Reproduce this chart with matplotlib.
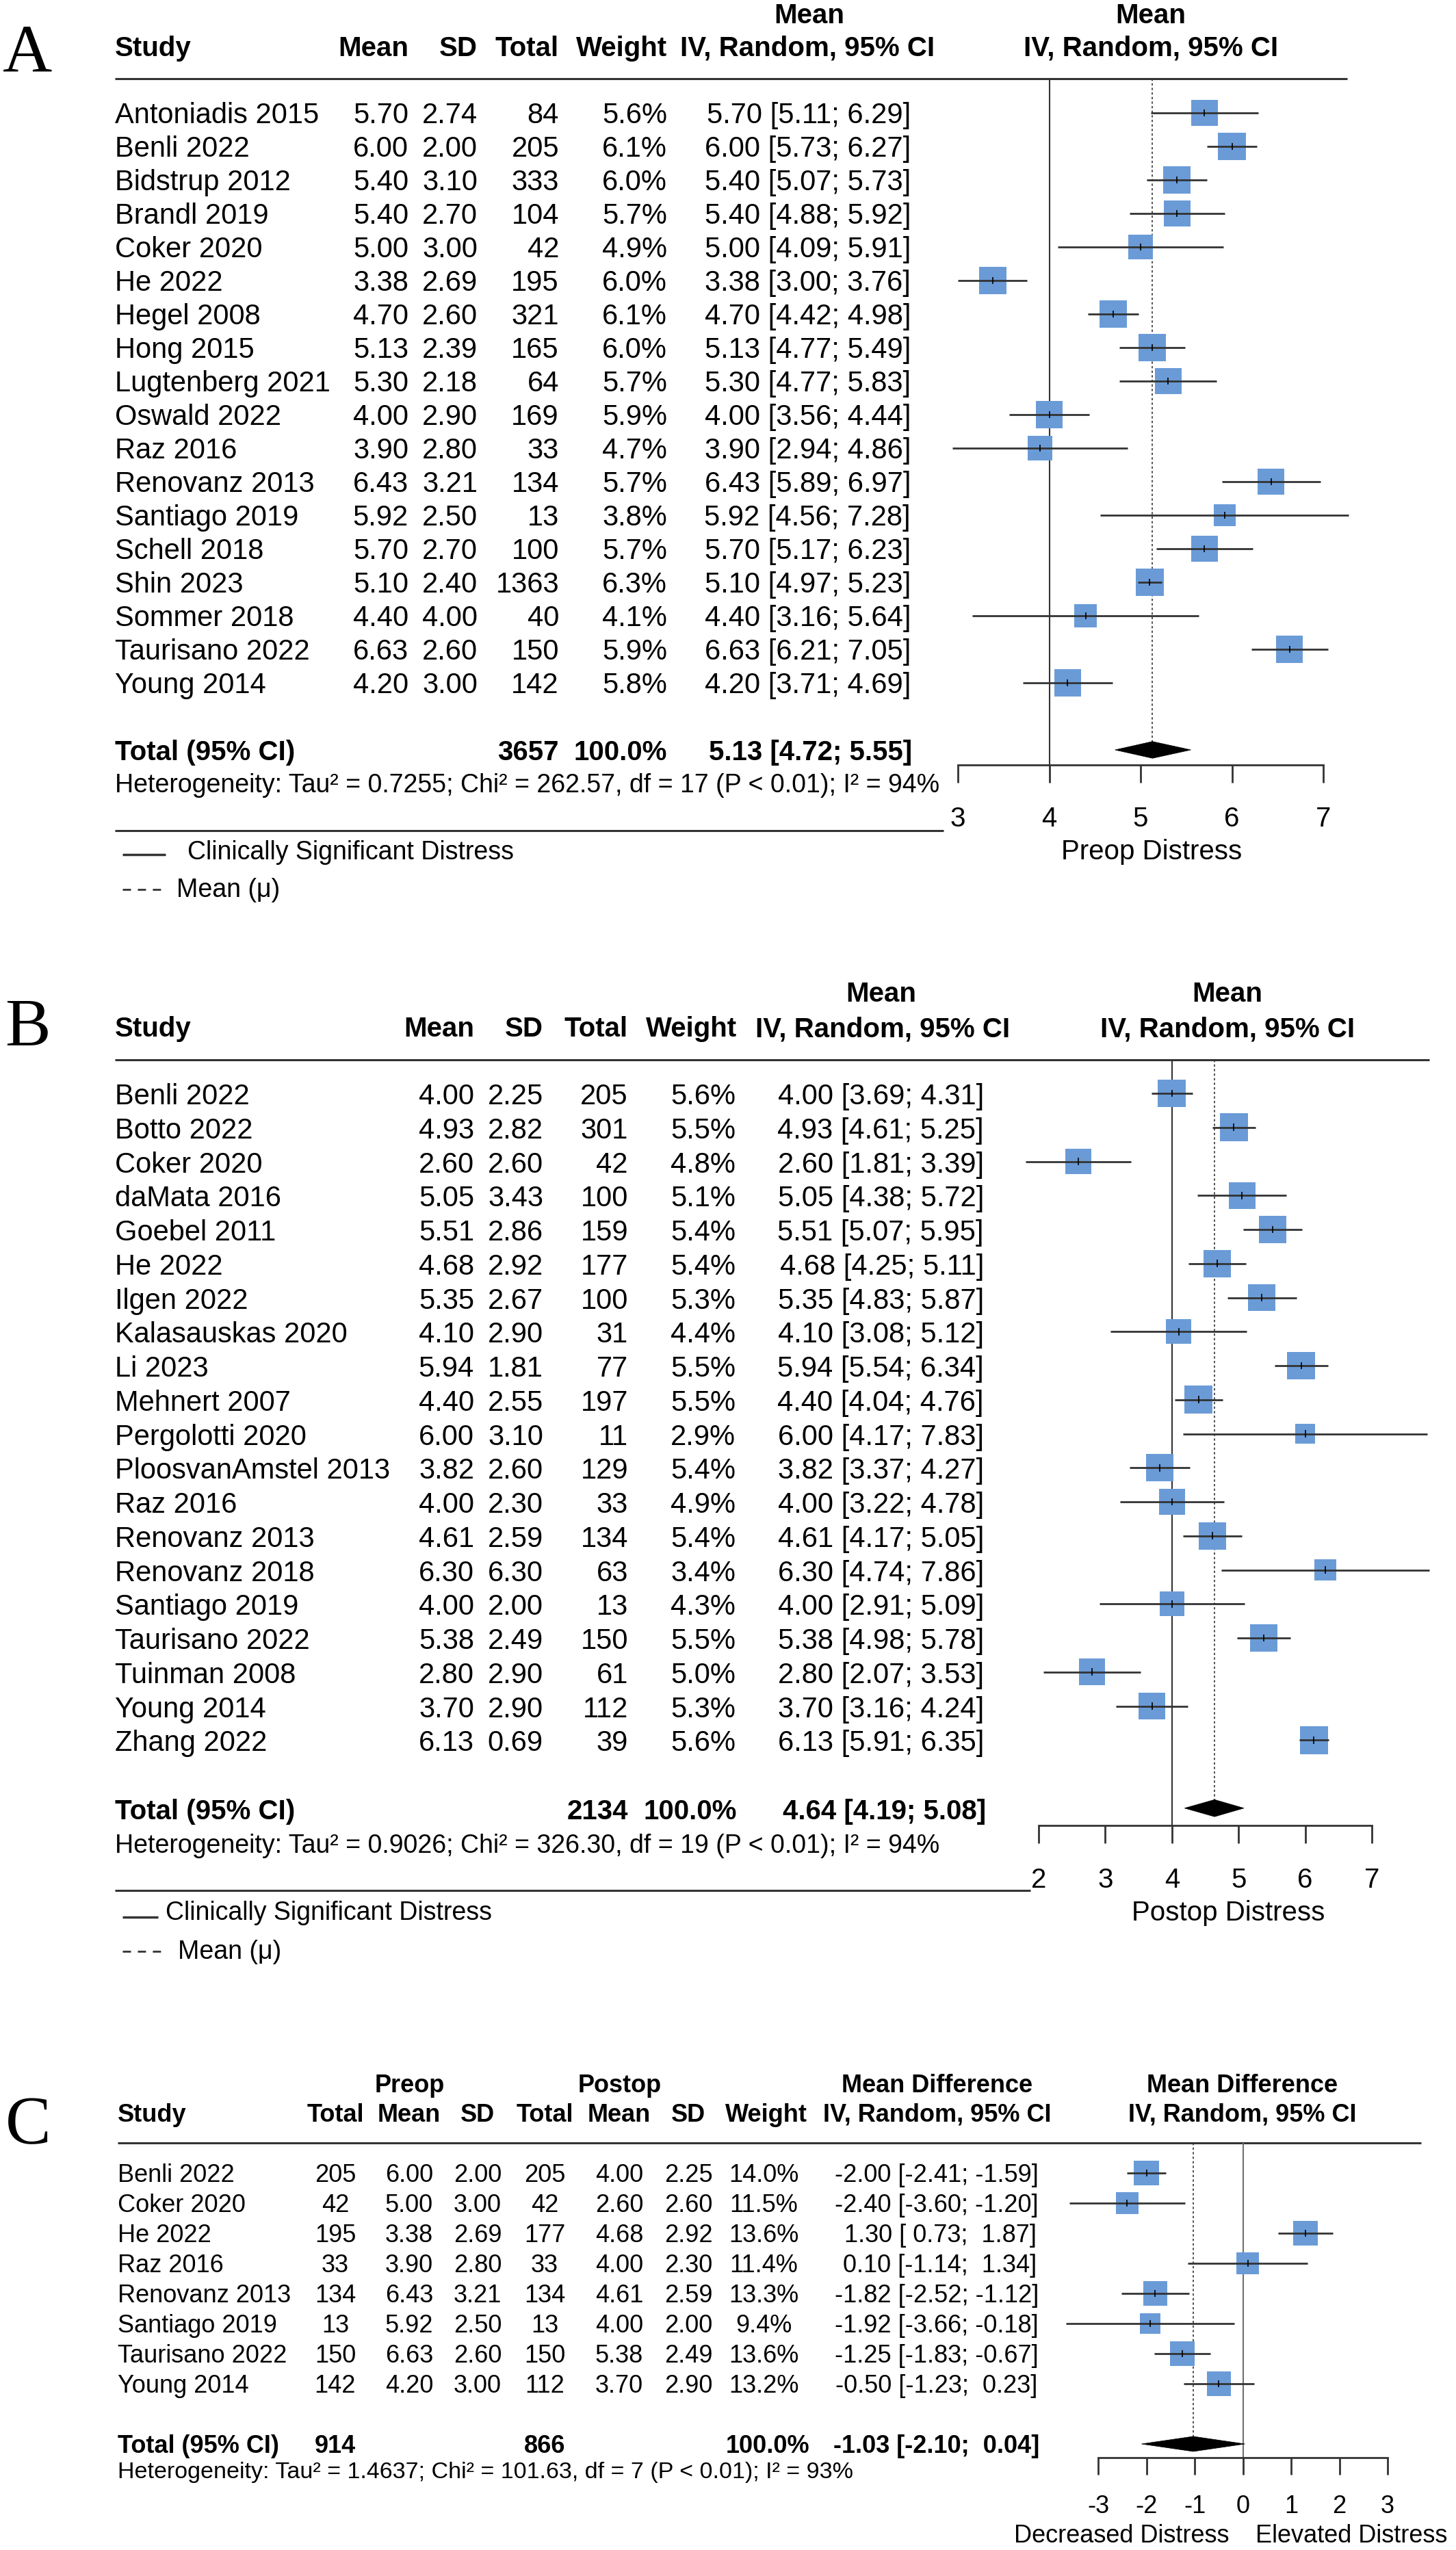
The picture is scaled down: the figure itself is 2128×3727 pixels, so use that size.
import numpy as np
import matplotlib
matplotlib.use('Agg')
import matplotlib.pyplot as plt
import matplotlib.transforms as mtransforms
from matplotlib.patches import Polygon

plt.rcParams['font.family'] = ['Liberation Sans', 'DejaVu Sans']
plt.rcParams['axes.unicode_minus'] = False

# ---------------- panel A : preop distress ----------------
studies_a = ["Antoniadis 2015", "Benli 2022", "Bidstrup 2012", "Brandl 2019", "Coker 2020",
             "He 2022", "Hegel 2008", "Hong 2015", "Lugtenberg 2021", "Oswald 2022", "Raz 2016",
             "Renovanz 2013", "Santiago 2019", "Schell 2018", "Shin 2023", "Sommer 2018",
             "Taurisano 2022", "Young 2014"]
mean_a = [5.70, 6.00, 5.40, 5.40, 5.00, 3.38, 4.70, 5.13, 5.30, 4.00, 3.90, 6.43, 5.92, 5.70, 5.10, 4.40, 6.63, 4.20]
sd_a = [2.74, 2.00, 3.10, 2.70, 3.00, 2.69, 2.60, 2.39, 2.18, 2.90, 2.80, 3.21, 2.50, 2.70, 2.40, 4.00, 2.60, 3.00]
n_a = [84, 205, 333, 104, 42, 195, 321, 165, 64, 169, 33, 134, 13, 100, 1363, 40, 150, 142]
w_a = [5.6, 6.1, 6.0, 5.7, 4.9, 6.0, 6.1, 6.0, 5.7, 5.9, 4.7, 5.7, 3.8, 5.7, 6.3, 4.1, 5.9, 5.8]
lo_a = [5.11, 5.73, 5.07, 4.88, 4.09, 3.00, 4.42, 4.77, 4.77, 3.56, 2.94, 5.89, 4.56, 5.17, 4.97, 3.16, 6.21, 3.71]
hi_a = [6.29, 6.27, 5.73, 5.92, 5.91, 3.76, 4.98, 5.49, 5.83, 4.44, 4.86, 6.97, 7.28, 6.23, 5.23, 5.64, 7.05, 4.69]
total_a = 3657
pooled_a = (5.13, 4.72, 5.55)
het_a = "Heterogeneity: Tau² = 0.7255; Chi² = 262.57, df = 17 (P < 0.01); I² = 94%"
ticks_a = [3, 4, 5, 6, 7]

# ---------------- panel B : postop distress ----------------
studies_b = ["Benli 2022", "Botto 2022", "Coker 2020", "daMata 2016", "Goebel 2011", "He 2022",
             "Ilgen 2022", "Kalasauskas 2020", "Li 2023", "Mehnert 2007", "Pergolotti 2020",
             "PloosvanAmstel 2013", "Raz 2016", "Renovanz 2013", "Renovanz 2018", "Santiago 2019",
             "Taurisano 2022", "Tuinman 2008", "Young 2014", "Zhang 2022"]
mean_b = [4.00, 4.93, 2.60, 5.05, 5.51, 4.68, 5.35, 4.10, 5.94, 4.40, 6.00, 3.82, 4.00, 4.61, 6.30, 4.00, 5.38, 2.80, 3.70, 6.13]
sd_b = [2.25, 2.82, 2.60, 3.43, 2.86, 2.92, 2.67, 2.90, 1.81, 2.55, 3.10, 2.60, 2.30, 2.59, 6.30, 2.00, 2.49, 2.90, 2.90, 0.69]
n_b = [205, 301, 42, 100, 159, 177, 100, 31, 77, 197, 11, 129, 33, 134, 63, 13, 150, 61, 112, 39]
w_b = [5.6, 5.5, 4.8, 5.1, 5.4, 5.4, 5.3, 4.4, 5.5, 5.5, 2.9, 5.4, 4.9, 5.4, 3.4, 4.3, 5.5, 5.0, 5.3, 5.6]
lo_b = [3.69, 4.61, 1.81, 4.38, 5.07, 4.25, 4.83, 3.08, 5.54, 4.04, 4.17, 3.37, 3.22, 4.17, 4.74, 2.91, 4.98, 2.07, 3.16, 5.91]
hi_b = [4.31, 5.25, 3.39, 5.72, 5.95, 5.11, 5.87, 5.12, 6.34, 4.76, 7.83, 4.27, 4.78, 5.05, 7.86, 5.09, 5.78, 3.53, 4.24, 6.35]
total_b = 2134
pooled_b = (4.64, 4.19, 5.08)
het_b = "Heterogeneity: Tau² = 0.9026; Chi² = 326.30, df = 19 (P < 0.01); I² = 94%"
ticks_b = [2, 3, 4, 5, 6, 7]

# ---------------- panel C : mean difference ----------------
studies_c = ["Benli 2022", "Coker 2020", "He 2022", "Raz 2016", "Renovanz 2013", "Santiago 2019",
             "Taurisano 2022", "Young 2014"]
n_pre = [205, 42, 195, 33, 134, 13, 150, 142]
mean_pre = [6.00, 5.00, 3.38, 3.90, 6.43, 5.92, 6.63, 4.20]
sd_pre = [2.00, 3.00, 2.69, 2.80, 3.21, 2.50, 2.60, 3.00]
n_post = [205, 42, 177, 33, 134, 13, 150, 112]
mean_post = [4.00, 2.60, 4.68, 4.00, 4.61, 4.00, 5.38, 3.70]
sd_post = [2.25, 2.60, 2.92, 2.30, 2.59, 2.00, 2.49, 2.90]
w_c = [14.0, 11.5, 13.6, 11.4, 13.3, 9.4, 13.6, 13.2]
md_c = [-2.00, -2.40, 1.30, 0.10, -1.82, -1.92, -1.25, -0.50]
lo_c = [-2.41, -3.60, 0.73, -1.14, -2.52, -3.66, -1.83, -1.23]
hi_c = [-1.59, -1.20, 1.87, 1.34, -1.12, -0.18, -0.67, 0.23]
total_pre, total_post = 914, 866
pooled_c = (-1.03, -2.10, 0.04)
het_c = "Heterogeneity: Tau² = 1.4637; Chi² = 101.63, df = 7 (P < 0.01); I² = 93%"
ticks_c = [-3, -2, -1, 0, 1, 2, 3]

W, H = 2128, 3727
SQ = '#6a9bd7'
LC = '#333333'

fig = plt.figure(figsize=(W / 100, H / 100), dpi=100)
bg = fig.add_axes([0, 0, 1, 1])
bg.set_xlim(0, W)
bg.set_ylim(H, 0)
bg.axis('off')


def forest_axes(x0, x1, lo, hi, y_top, y_axis, row0, row_h):
    ax = fig.add_axes([x0 / W, 1 - y_axis / H, (x1 - x0) / W, (y_axis - y_top) / H])
    ax.set_xlim(lo, hi)
    ax.set_ylim((y_axis - row0) / row_h, (y_top - row0) / row_h)
    ax.patch.set_visible(False)
    for s in ['top', 'left', 'right']:
        ax.spines[s].set_visible(False)
    ax.spines['bottom'].set_linewidth(2.0)
    ax.spines['bottom'].set_color(LC)
    ax.set_yticks([])
    return ax


def draw_forest(ax, est, lo, hi, w, k, pooled, ref, ticks, fs, ticklen, pad, refcol=LC):
    rows = np.arange(len(est))
    side = k * np.sqrt(np.array(w)) * 0.72
    ax.scatter(est, rows, s=side ** 2, marker='s', color=SQ, linewidths=0, zorder=2, clip_on=False)
    ax.hlines(rows, lo, hi, color=LC, lw=2.0, zorder=3, clip_on=False)
    ax.vlines(est, rows - 0.11, rows + 0.11, color='black', lw=1.2, zorder=4, clip_on=False)
    tr = len(est) + 1
    m, l, h = pooled
    ax.add_patch(Polygon([[l, tr], [m, tr - 0.25], [h, tr], [m, tr + 0.25]], closed=True,
                         facecolor='black', edgecolor='black', lw=0.5, zorder=3, clip_on=False))
    ax.axvline(ref, color=refcol, lw=1.5, zorder=1)
    ax.vlines(m, ax.get_ylim()[1], tr - 0.25, colors=LC, lw=1.2, linestyles=(0, (2, 2)), zorder=1)
    ax.set_xticks(ticks)
    ax.set_xticklabels([str(t) for t in ticks])
    ax.tick_params(axis='x', direction='out', length=ticklen, width=2.0, color=LC,
                   labelsize=fs, pad=pad)


def rtext(ax, x, row, s, ha, fs, dy, weight='normal'):
    tr = mtransforms.blended_transform_factory(bg.transData, ax.transData) + \
        mtransforms.ScaledTranslation(0, -dy / 100, fig.dpi_scale_trans)
    bg.text(x, row, s, transform=tr, ha=ha, va='baseline', fontsize=fs, fontweight=weight)


def htext(x, y, s, ha, fs, weight='bold'):
    bg.text(x, y, s, ha=ha, va='baseline', fontsize=fs, fontweight=weight)


def hline(x0, x1, y, lw=2.2, ls='-'):
    bg.plot([x0, x1], [y, y], color=LC, lw=lw, ls=ls, solid_capstyle='butt', dash_capstyle='butt')


FS = 30      # table text, panels A and B
FH = 29      # bold headers, panels A and B
FX = 29      # axis labels / ticks
FSH = 27     # heterogeneity + legend
DASH = (0, (4.3, 3.6))

# ================= panel A =================
bg.text(4, 105, "A", fontsize=72, family='Liberation Serif', va='baseline')
htext(168, 82, "Study", 'left', FH)
htext(597, 82, "Mean", 'right', FH)
htext(698, 82, "SD", 'right', FH)
htext(817, 82, "Total", 'right', FH)
htext(975, 82, "Weight", 'right', FH)
htext(1183, 34, "Mean", 'center', FH)
htext(1180, 82, "IV, Random, 95% CI", 'center', FH)
htext(1682, 34, "Mean", 'center', FH)
htext(1682, 82, "IV, Random, 95% CI", 'center', FH)
hline(168, 1969, 115)

ax_a = forest_axes(1400, 1934, 3, 7, 115, 1118, 165, 49)
draw_forest(ax_a, mean_a, lo_a, hi_a, w_a, 16.3, pooled_a, 4, ticks_a, FX, 18.7, 24.5)
for i in range(len(studies_a)):
    rtext(ax_a, 168, i, studies_a[i], 'left', FS, 15)
    rtext(ax_a, 597, i, f"{mean_a[i]:.2f}", 'right', FS, 15)
    rtext(ax_a, 698, i, f"{sd_a[i]:.2f}", 'right', FS, 15)
    rtext(ax_a, 817, i, f"{n_a[i]}", 'right', FS, 15)
    rtext(ax_a, 975, i, f"{w_a[i]:.1f}%", 'right', FS, 15)
    rtext(ax_a, 1331, i, f"{mean_a[i]:.2f} [{lo_a[i]:.2f}; {hi_a[i]:.2f}]", 'right', FS, 15)
ti = len(studies_a) + 1
rtext(ax_a, 168, ti, "Total (95% CI)", 'left', FH, 15, 'bold')
rtext(ax_a, 817, ti, f"{total_a}", 'right', FH, 15, 'bold')
rtext(ax_a, 975, ti, "100.0%", 'right', FH, 15, 'bold')
rtext(ax_a, 1333, ti, "%.2f [%.2f; %.2f]" % pooled_a, 'right', FH, 15, 'bold')
rtext(ax_a, 168, ti + 1, het_a, 'left', FSH, 13)
hline(168, 1379, 1214)
bg.text(1683, 1256, "Preop Distress", ha='center', va='baseline', fontsize=FX)
hline(179, 242, 1249, lw=2.5)
bg.text(274, 1256, "Clinically Significant Distress", ha='left', va='baseline', fontsize=FSH)
hline(179, 235, 1300, lw=2.0, ls=DASH)
bg.text(258, 1311, "Mean (μ)", ha='left', va='baseline', fontsize=FSH)

# ================= panel B =================
bg.text(7, 1527, "B", fontsize=72, family='Liberation Serif', va='baseline')
htext(168, 1515, "Study", 'left', FH)
htext(693, 1515, "Mean", 'right', FH)
htext(794, 1515, "SD", 'right', FH)
htext(918, 1515, "Total", 'right', FH)
htext(1077, 1515, "Weight", 'right', FH)
htext(1288, 1464, "Mean", 'center', FH)
htext(1290, 1515, "IV, Random, 95% CI", 'center', FH)
htext(1794, 1464, "Mean", 'center', FH)
htext(1794, 1515, "IV, Random, 95% CI", 'center', FH)
hline(168, 2089, 1549)

ax_b = forest_axes(1518, 2005, 2, 7, 1549, 2668, 1598, 49.75)
draw_forest(ax_b, mean_b, lo_b, hi_b, w_b, 17.3, pooled_b, 4, ticks_b, FX, 18.7, 25.5)
for i in range(len(studies_b)):
    rtext(ax_b, 168, i, studies_b[i], 'left', FS, 16)
    rtext(ax_b, 693, i, f"{mean_b[i]:.2f}", 'right', FS, 16)
    rtext(ax_b, 794, i, f"{sd_b[i]:.2f}", 'right', FS, 16)
    rtext(ax_b, 918, i, f"{n_b[i]}", 'right', FS, 16)
    rtext(ax_b, 1075, i, f"{w_b[i]:.1f}%", 'right', FS, 16)
    rtext(ax_b, 1438, i, f"{mean_b[i]:.2f} [{lo_b[i]:.2f}; {hi_b[i]:.2f}]", 'right', FS, 16)
ti = len(studies_b) + 1
rtext(ax_b, 168, ti, "Total (95% CI)", 'left', FH, 16, 'bold')
rtext(ax_b, 918, ti, f"{total_b}", 'right', FH, 16, 'bold')
rtext(ax_b, 1077, ti, "100.0%", 'right', FH, 16, 'bold')
rtext(ax_b, 1441, ti, "%.2f [%.2f; %.2f]" % pooled_b, 'right', FH, 16, 'bold')
rtext(ax_b, 168, ti + 1, het_b, 'left', FSH, 15)
hline(168, 1506, 2763)
bg.text(1795, 2807, "Postop Distress", ha='center', va='baseline', fontsize=FX)
hline(179, 231, 2802, lw=2.5)
bg.text(242, 2806, "Clinically Significant Distress", ha='left', va='baseline', fontsize=FSH)
hline(179, 235, 2852, lw=2.0, ls=DASH)
bg.text(260, 2863, "Mean (μ)", ha='left', va='baseline', fontsize=FSH)

# ================= panel C =================
FC = 26
bg.text(8, 3132, "C", fontsize=72, family='Liberation Serif', va='baseline')
htext(599, 3058, "Preop", 'center', FC)
htext(906, 3058, "Postop", 'center', FC)
htext(1370, 3058, "Mean Difference", 'center', FC)
htext(1816, 3058, "Mean Difference", 'center', FC)
htext(172, 3101, "Study", 'left', FC)
for x, s in zip([490, 598, 698, 796, 905, 1006, 1120, 1370, 1816],
                ["Total", "Mean", "SD", "Total", "Mean", "SD", "Weight",
                 "IV, Random, 95% CI", "IV, Random, 95% CI"]):
    htext(x, 3101, s, 'center', FC)
hline(172, 2077, 3132)

ax_c = forest_axes(1605, 2028, -3, 3, 3132, 3592, 3176, 44)
draw_forest(ax_c, md_c, lo_c, hi_c, w_c, 9.7, pooled_c, 0, ticks_c, FC, 18, 20.6, refcol='#707070')
for i in range(len(studies_c)):
    rtext(ax_c, 172, i, studies_c[i], 'left', FC, 13)
    rtext(ax_c, 490, i, f"{n_pre[i]}", 'center', FC, 13)
    rtext(ax_c, 598, i, f"{mean_pre[i]:.2f}", 'center', FC, 13)
    rtext(ax_c, 698, i, f"{sd_pre[i]:.2f}", 'center', FC, 13)
    rtext(ax_c, 796, i, f"{n_post[i]}", 'center', FC, 13)
    rtext(ax_c, 905, i, f"{mean_post[i]:.2f}", 'center', FC, 13)
    rtext(ax_c, 1006, i, f"{sd_post[i]:.2f}", 'center', FC, 13)
    rtext(ax_c, 1116, i, f"{w_c[i]:.1f}%", 'center', FC, 13)
    rtext(ax_c, 1369, i, f"{md_c[i]:5.2f} [{lo_c[i]:5.2f}; {hi_c[i]:5.2f}]", 'center', FC, 13)
ti = len(studies_c) + 1
rtext(ax_c, 172, ti, "Total (95% CI)", 'left', FC, 13, 'bold')
rtext(ax_c, 490, ti, f"{total_pre}", 'center', FC, 13, 'bold')
rtext(ax_c, 796, ti, f"{total_post}", 'center', FC, 13, 'bold')
rtext(ax_c, 1122, ti, "100.0%", 'center', FC, 13, 'bold')
rtext(ax_c, 1369, ti, "%5.2f [%5.2f; %5.2f]" % pooled_c, 'center', FC, 13, 'bold')
rtext(ax_c, 172, ti + 1, het_c, 'left', 24.5, 6)
bg.text(1639, 3716, "Decreased Distress", ha='center', va='baseline', fontsize=FC)
bg.text(1975, 3716, "Elevated Distress", ha='center', va='baseline', fontsize=FC)

fig.savefig('out.png', dpi=100)
